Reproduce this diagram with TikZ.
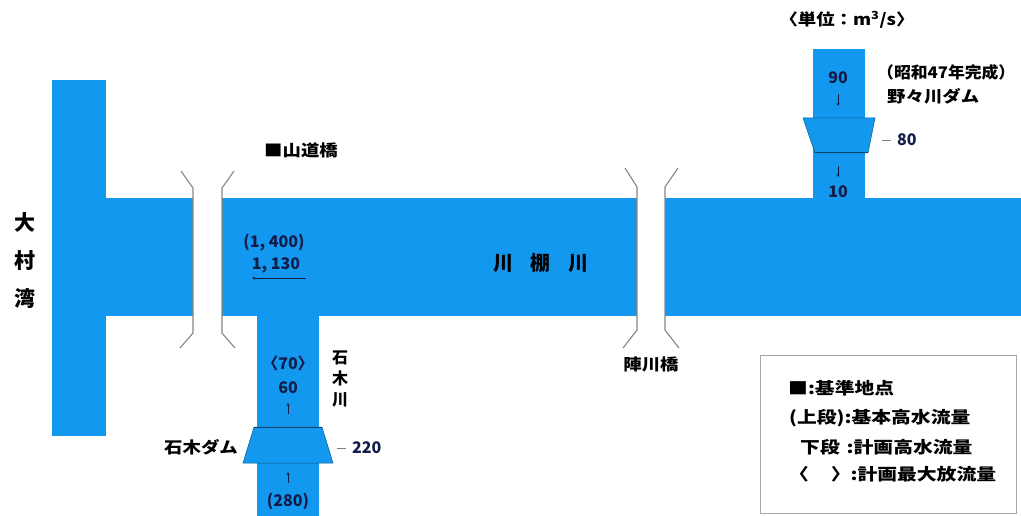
\documentclass[tikz,border=0pt]{standalone}
\usepackage{fontspec}
\setmainfont{Noto Sans CJK JP}
\usetikzlibrary{arrows.meta}
\definecolor{riv}{RGB}{18,152,238}
\definecolor{ink}{RGB}{18,28,72}
\definecolor{brg}{RGB}{140,130,125}
\newcommand{\wjp}[1]{\scalebox{1.15}[1]{#1}}
\newcommand{\wlg}[1]{\scalebox{1.2}[1]{#1}}
\begin{document}
\begin{tikzpicture}[x=1pt,y=-1pt,
  water/.style={fill=riv},
  damshape/.style={fill=riv, draw=riv!60!black, line width=0.5pt},
  damline/.style={draw=riv!45!black, line width=1pt},
  bridgeline/.style={draw=brg, line width=1.1pt},
  lbl/.style={font=\fontsize{16}{18}\selectfont\bfseries, text=black, inner sep=0pt},
  num/.style={font=\fontsize{16}{18}\selectfont\bfseries, text=ink, inner sep=0pt},
  big/.style={font=\fontsize{20}{26}\selectfont\bfseries, text=black, inner sep=0pt, align=center},
  leg/.style={font=\fontsize{16.5}{18}\selectfont\bfseries, text=black, inner sep=0pt, anchor=west},
  flow/.style={draw=ink, line width=0.6pt, -{Stealth[length=3pt,width=3pt]}},
  leader/.style={draw=gray, line width=0.8pt}]
\useasboundingbox (0,0) rectangle (1021,516);
% water bodies
\fill[water] (52,80) rectangle (106,436);
\fill[water] (257,310) rectangle (319,516);
\fill[water] (813,49) rectangle (865,205);
\fill[water] (104,198) rectangle (193,316);
\fill[water] (222,198) rectangle (637,316);
\fill[water] (665,198) rectangle (1021,316);
% Ishiki dam
\draw[damshape] (254,427) -- (322,427) -- (333,463) -- (243,463) -- cycle;
\draw[damline] (254,427) -- (322,427);
% Nonokawa dam
\draw[damshape] (803,118) -- (875,118) -- (868,153) -- (815,153) -- cycle;
\draw[damline] (815,153) -- (868,153);
% bridges
\draw[bridgeline] (181,171) -- (193,188) -- (193,333) -- (180,348);
\draw[bridgeline] (234,171) -- (222,188) -- (222,333) -- (235,348);
\draw[bridgeline] (625,168) -- (637,187) -- (637,330) -- (623,348);
\draw[bridgeline] (678,168) -- (665,187) -- (665,330) -- (679,348);
% labels
\node[lbl] (unit) at (847,20) {\wjp{〈単位：m\textsuperscript{3}/s〉}};
\node[num] (n90) at (838,78) {90};
\coordinate (a90s) at (838,94);
\coordinate (a90e) at (838,106);
\draw[flow] (a90s) -- (a90e);
\coordinate (a10s) at (838,166);
\coordinate (a10e) at (838,177);
\draw[flow] (a10s) -- (a10e);
\node[num] (n10) at (838,192) {10};
\node[lbl, anchor=west] (showa) at (877,72) {\scalebox{1.05}[1]{（昭和47年完成）}};
\node[lbl, anchor=west] (nono) at (887,96) {\wjp{野々川ダム}};
\coordinate (l80a) at (882,140);
\coordinate (l80b) at (891,140);
\draw[leader] (l80a) -- (l80b);
\node[num, anchor=west] (n80) at (897,140) {80};
\node[lbl] (sando) at (301,150) {\wjp{■山道橋}};
\node[num] (n1400) at (274,243) {(1, 400)};
\node[num] (n1130) at (276,265) {1, 130};
\coordinate (ua) at (306,278);
\coordinate (ub) at (252,278);
\draw[flow] (ua) -- (ub);
\node[big] (kawatana) at (541,263) {川\hspace{0.9em}棚\hspace{0.9em}川};
\node[lbl] (jinkawa) at (651,364) {\wjp{陣川橋}};
\node[lbl, align=center, font=\fontsize{16}{21}\selectfont\bfseries] (ishikigawa) at (340,379) {石\\木\\川};
\node[num] (n70) at (288,363) {〈70〉};
\node[num] (n60) at (288,388) {60};
\coordinate (b60s) at (288,414);
\coordinate (b60e) at (288,403);
\draw[flow] (b60s) -- (b60e);
\node[lbl] (ishikidam) at (201,447) {\wjp{石木ダム}};
\coordinate (l220a) at (337,448);
\coordinate (l220b) at (346,448);
\draw[leader] (l220a) -- (l220b);
\node[num, anchor=west] (n220) at (352,448) {220};
\coordinate (b280s) at (288,483);
\coordinate (b280e) at (288,472);
\draw[flow] (b280s) -- (b280e);
\node[num] (n280) at (288,501) {(280)};
\node[big, font=\fontsize{21}{38}\selectfont\bfseries] (omura) at (25,261) {大\\村\\湾};
% legend
\node[draw=gray!70, line width=0.8pt, minimum width=256pt, minimum height=158pt, anchor=north west, inner sep=0pt] (legend) at (760,355) {};
\node[leg] (lg1) at (788,388) {\wlg{■:基準地点}};
\node[leg] (lg2) at (789,418) {\wlg{(上段):基本高水流量}};
\node[leg] (lg3) at (800,447) {\wlg{下段\hspace{0.35em}:計画高水流量}};
\node[leg] (lg4) at (789,474) {\wlg{〈\hspace{1.1em}〉:計画最大放流量}};
\end{tikzpicture}
\end{document}
